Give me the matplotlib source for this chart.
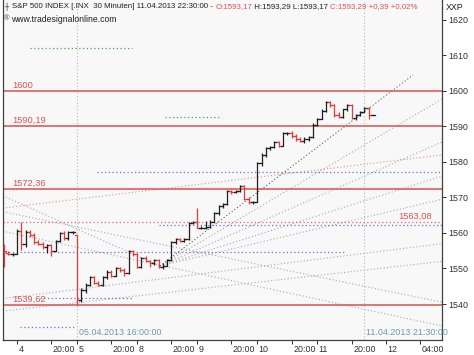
import matplotlib
matplotlib.use("Agg")
import matplotlib.pyplot as plt
import matplotlib.transforms as mtransforms
import numpy as np

plt.rcParams['font.family'] = ['Liberation Sans', 'DejaVu Sans']

# 30-minute bars, index 0 = 03.04.2013 21:30
opens = [1556.0, 1554.5, 1554.0,
         1554.2, 1560.5, 1557.0, 1560.2, 1559.5, 1557.4, 1557.0, 1556.0, 1556.5, 1555.0, 1557.8, 1560.0, 1558.5, 1560.2,
         1559.5, 1541.0, 1544.0, 1545.4, 1547.6, 1546.0, 1545.4, 1547.5, 1549.0, 1548.0, 1550.0, 1549.5, 1548.6, 1555.0,
         1554.0, 1550.5, 1553.0, 1552.0, 1551.5, 1552.5, 1550.3, 1550.8, 1552.4, 1557.5, 1558.2, 1557.8, 1558.3, 1562.8,
         1563.0, 1561.5, 1561.5, 1561.8, 1563.2, 1565.6, 1567.5, 1568.3, 1571.8, 1571.5, 1571.8, 1573.2, 1569.5, 1568.6,
         1568.8, 1579.7, 1582.0, 1584.0, 1584.2, 1585.5, 1584.6, 1588.2, 1588.3, 1587.2, 1586.6, 1586.0, 1586.5, 1587.0,
         1590.5, 1592.2, 1594.5, 1597.0, 1596.0, 1593.2, 1592.8, 1594.8, 1596.0, 1592.4, 1593.2, 1594.2, 1595.2, 1593.17]
highs = [1557.0, 1555.0, 1554.5,
         1561.0, 1563.0, 1560.8, 1560.8, 1560.0, 1558.0, 1557.5, 1557.0, 1557.0, 1558.0, 1560.3, 1560.5, 1560.5, 1560.6,
         1559.5, 1544.5, 1546.0, 1548.0, 1547.8, 1546.5, 1547.8, 1549.5, 1549.5, 1550.5, 1550.5, 1550.0, 1555.3, 1555.3,
         1554.3, 1553.2, 1553.5, 1552.3, 1552.8, 1552.8, 1551.5, 1552.6, 1557.8, 1558.7, 1558.5, 1558.6, 1563.0, 1563.3,
         1567.0, 1562.0, 1563.5, 1563.6, 1566.0, 1568.0, 1568.5, 1572.2, 1572.2, 1572.0, 1573.6, 1573.5, 1570.0, 1569.0,
         1580.0, 1582.5, 1584.3, 1584.5, 1585.8, 1586.0, 1588.5, 1588.5, 1588.6, 1588.0, 1587.0, 1587.0, 1587.2, 1591.0,
         1592.5, 1594.8, 1597.2, 1597.3, 1596.2, 1594.0, 1595.0, 1596.2, 1596.3, 1593.5, 1594.5, 1595.4, 1595.5, 1593.29]
lows = [1550.5, 1553.8, 1553.5,
        1554.0, 1555.2, 1556.0, 1559.0, 1557.0, 1556.5, 1555.5, 1554.5, 1553.5, 1554.8, 1557.5, 1558.0, 1558.0, 1559.8,
        1539.62, 1540.5, 1543.0, 1545.0, 1545.5, 1545.0, 1545.0, 1547.0, 1547.6, 1547.8, 1549.0, 1548.0, 1548.5, 1553.5,
        1550.0, 1550.0, 1552.0, 1550.5, 1551.0, 1550.0, 1549.8, 1550.6, 1552.2, 1557.0, 1557.5, 1557.5, 1558.0, 1562.5,
        1561.4, 1561.0, 1561.0, 1561.5, 1563.0, 1565.0, 1567.0, 1568.0, 1571.0, 1571.2, 1571.5, 1569.2, 1568.3, 1568.3,
        1568.6, 1579.0, 1581.5, 1583.5, 1584.0, 1584.2, 1584.5, 1587.5, 1586.8, 1586.0, 1585.5, 1585.3, 1586.0, 1586.8,
        1590.0, 1592.0, 1594.0, 1595.5, 1592.7, 1592.4, 1592.5, 1594.5, 1592.0, 1591.8, 1593.0, 1594.0, 1592.0, 1593.17]
closes = [1555.0, 1554.0, 1554.2,
          1560.5, 1557.0, 1560.2, 1559.5, 1557.4, 1557.0, 1556.0, 1556.5, 1555.0, 1557.8, 1560.0, 1558.5, 1560.2, 1560.3,
          1541.0, 1544.0, 1545.4, 1547.6, 1546.0, 1545.4, 1547.5, 1549.0, 1548.0, 1550.0, 1549.5, 1548.6, 1555.0, 1554.0,
          1550.5, 1553.0, 1552.0, 1551.5, 1552.5, 1550.3, 1550.8, 1552.4, 1557.5, 1558.2, 1557.8, 1558.3, 1562.8, 1563.0,
          1561.5, 1561.5, 1561.8, 1563.2, 1565.6, 1567.5, 1568.3, 1571.8, 1571.5, 1571.8, 1573.2, 1569.5, 1568.6, 1568.8,
          1579.7, 1582.0, 1584.0, 1584.2, 1585.5, 1584.6, 1588.2, 1588.3, 1587.2, 1586.6, 1586.0, 1586.5, 1587.0, 1590.5,
          1592.2, 1594.5, 1597.0, 1596.0, 1593.2, 1592.8, 1594.8, 1596.0, 1592.4, 1593.2, 1594.2, 1595.2, 1593.17, 1593.29]

# support / resistance levels
red_levels = [1600.0, 1590.19, 1572.36, 1539.62]
red_labels = ["1600", "1590,19", "1572,36", "1539,62"]
dotted_level = 1563.08
dotted_label = "1563,08"

# dotted horizontal segments: (start index, end index, price)
blue_segments = [(21.6, 102.0, 1577.3), (36.0, 102.0, 1562.3), (0.2, 79.5, 1554.7),
                 (8.4, 30.0, 1541.7), (3.7, 16.8, 1533.6)]
green_segments = [(6.0, 29.8, 1612.1), (37.5, 50.3, 1592.6)]

# trend / fan lines: (start index, start price, end index, end price)
dark_lines = [(36.3, 1550.7, 95.3, 1604.5)]
gray_lines = [(36.3, 1550.7, 102.0, 1597.7), (36.3, 1550.7, 102.0, 1585.6),
              (36.3, 1550.7, 102.0, 1576.0), (36.3, 1550.7, 102.0, 1569.5),
              (-0.3, 1570.5, 36.3, 1550.7), (-0.3, 1566.0, 102.0, 1540.5),
              (-0.3, 1541.5, 102.0, 1557.0), (-0.3, 1538.0, 102.0, 1552.0),
              (-0.3, 1560.5, 102.0, 1533.8)]
red_dotted_lines = [(-0.3, 1567.0, 102.0, 1582.0)]

# vertical markers
markers = [(17, "05.04.2013 16:00:00"), (84, "11.04.2013 21:30:00")]

xtick_pos = [3, 11, 17, 25, 31, 39, 45, 53, 59, 67, 73, 81, 89, 97]
xtick_lab = ["4", "20:00", "5", "20:00", "8", "20:00", "9", "20:00", "10", "20:00", "11", "20:00", "12", "04:00"]
ytick_pos = [1540, 1550, 1560, 1570, 1580, 1590, 1600, 1610, 1620]

RED = "#e05050"
LRED = "#e06868"
W, H = 474, 355
FS = 6.4

fig = plt.figure(figsize=(W / 100, H / 100), dpi=100)
fig.patch.set_facecolor("white")
ax = fig.add_axes([3 / W, 15 / H, 439 / W, 340 / H])
ax.set_facecolor("#f8f8f8")
ax.set_xlim(-0.26, 102.07)
ax.set_ylim(1529.86, 1625.63)

dot = (0, (1, 2))

for p in red_levels:
    ax.axhline(p, color=LRED, lw=1.3, zorder=2)
ax.axhline(dotted_level, color=LRED, lw=0.9, ls=dot, zorder=2)
for x0, x1, p in blue_segments:
    ax.plot([x0, x1], [p, p], color="#7070c8", lw=0.9, ls=dot, zorder=2)
for x0, x1, p in green_segments:
    ax.plot([x0, x1], [p, p], color="#50a050", lw=0.9, ls=dot, zorder=2)
for x0, y0, x1, y1 in gray_lines:
    ax.plot([x0, x1], [y0, y1], color="#a8a8a8", lw=0.8, ls=dot, zorder=1)
for x0, y0, x1, y1 in dark_lines:
    ax.plot([x0, x1], [y0, y1], color="#606060", lw=0.8, ls=dot, zorder=1)
for x0, y0, x1, y1 in red_dotted_lines:
    ax.plot([x0, x1], [y0, y1], color="#e09090", lw=0.8, ls=dot, zorder=1)
for xi, lab in markers:
    ax.axvline(xi, color="#b8b8b8", lw=0.8, ls=dot, zorder=1)
    ax.text(xi + 0.4, 1530.6, lab, color="#6a9aa8", fontsize=FS, va="bottom", ha="left")

# OHLC bars
for i in range(len(closes)):
    c = "#202020" if closes[i] >= opens[i] else "#e03c3c"
    ax.plot([i, i], [lows[i], highs[i]], color=c, lw=0.9, solid_capstyle="butt", zorder=3)
    ax.plot([i - 0.5, i], [opens[i], opens[i]], color=c, lw=0.9, zorder=3)
    ax.plot([i, i + 0.5], [closes[i], closes[i]], color=c, lw=0.9, zorder=3)

for p, lab in zip(red_levels, red_labels):
    ax.text(1.8, p + 0.4, lab, color=RED, fontsize=FS + 0.3, va="bottom", ha="left")
ax.text(99.8, dotted_level + 0.4, dotted_label, color=RED, fontsize=FS + 0.3, va="bottom", ha="right")

# axes styling
ax.spines["top"].set_visible(False)
for s in ["left", "right", "bottom"]:
    ax.spines[s].set_color("#404040")
    ax.spines[s].set_linewidth(0.9)
ax.yaxis.tick_right()
ax.set_yticks(ytick_pos)
ax.set_yticklabels([str(v) for v in ytick_pos])
ax.tick_params(axis="y", direction="out", length=3, width=0.7, colors="#303030", labelsize=FS, pad=1.5)
ax.set_xticks(xtick_pos)
ax.set_xticklabels(xtick_lab, ha="left")
ax.tick_params(axis="x", direction="out", length=3, width=0.7, colors="#303030", labelsize=FS, pad=0.5)
off = mtransforms.ScaledTranslation(1.5 / 100, 0, fig.dpi_scale_trans)
for t in ax.get_xticklabels():
    t.set_transform(t.get_transform() + off)

# header
fs = 5.7
y1 = 1 - 7 / H
parts = [("S&P 500 INDEX [.INX  30 Minuten] 11.04.2013 22:30:00 - ", "#202020"),
         ("O:1593,17", RED), (" H:1593,29 L:1593,17 ", "#202020"), ("C:1593,29 +0,39 +0,02%", RED)]
fig.canvas.draw()
xpos = 12 / W
r = fig.canvas.get_renderer()
for txt, col in parts:
    t = fig.text(xpos, y1, txt, color=col, fontsize=fs, va="center", ha="left")
    bb = t.get_window_extent(renderer=r)
    xpos += bb.width / W
fig.text(4 / W, y1, "\u253c", color="#202020", fontsize=5, va="center", ha="left",
         family="DejaVu Sans")
fig.text(4 / W, 1 - 19 / H, "\u00ae", color="#404040", fontsize=5.5, va="center", ha="left")
fig.text(11 / W, 1 - 19 / H, "www.tradesignalonline.com", color="#202020", fontsize=6.2, va="center", ha="left")
fig.text(446 / W, y1, "XXP", color="#202020", fontsize=FS, va="center", ha="left")

fig.savefig("out.png", dpi=100)
